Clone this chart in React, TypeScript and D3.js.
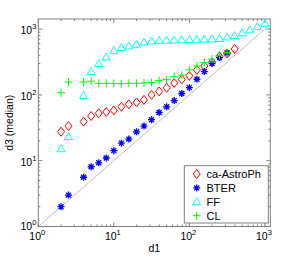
import React from 'react'
import * as d3 from 'd3'

// degree bins (d1) shared by all series
const d1Bins = [2, 2.51, 3.98, 5.01, 6.31, 7.94, 10, 12.6, 15.8, 20, 25.1, 31.6, 39.8, 50.1, 63.1, 79.4, 100, 126, 158, 200, 251, 316, 398, 501, 631, 794, 1000]

const astroPh = [27.6, 33.6, 39.3, 47.7, 52.5, 55, 58, 66, 72, 77, 84, 100, 113, 128, 152, 172, 195, 240, 275, 315, 385, 425, 500]
const bter = [2, 3, 5.6, 8.1, 9.3, 11, 14.2, 18.5, 21.3, 27.5, 33.6, 42, 54, 66, 82, 105, 129, 173, 226, 299, 370, 435]
const ff = [15.2, 23.2, 98.6, 226, 299, 378, 477, 525, 555, 590, 635, 660, 675, 680, 685, 690, 695, 700, 705, 710, 720, 760, 800, 880, 970, 1090, 1230]
const cl = [108, 157, 157, 162, 150, 150, 150, 148, 150, 150, 152, 155, 165, 172, 190, 200, 240, 275, 310, 350, 400, 440]

const seriesNames = ['ca-AstroPh', 'BTER', 'FF', 'CL']
const majorTicks = [1, 10, 100, 1000]

const W = 299
const H = 257
const left = 38.3
const right = 270.3
const top = 19
const bottom = 226.5

const x = d3.scaleLog().domain([1, 1180]).range([left, right])
const y = d3.scaleLog().domain([1, 1425]).range([bottom, top])

const Marker = ({ kind, cx, cy }: { kind: string; cx: number; cy: number }) => {
	if (kind === 'ca-AstroPh') {
		return <path d={`M${cx},${cy - 4.5}L${cx + 3.5},${cy}L${cx},${cy + 4.5}L${cx - 3.5},${cy}Z`} fill='none' stroke='#ff0000' strokeWidth={1} />
	}
	if (kind === 'BTER') {
		const r = 3.5
		const d = r * 0.707
		return (
			<path
				d={`M${cx - r},${cy}H${cx + r}M${cx},${cy - r}V${cy + r}M${cx - d},${cy - d}L${cx + d},${cy + d}M${cx - d},${cy + d}L${cx + d},${cy - d}`}
				stroke='#0000ff'
				strokeWidth={1.3}
			/>
		)
	}
	if (kind === 'FF') {
		return <path d={`M${cx},${cy - 4}L${cx + 4},${cy + 3}L${cx - 4},${cy + 3}Z`} fill='none' stroke='#00ffff' strokeWidth={1} />
	}
	return <path d={`M${cx - 4},${cy}H${cx + 4}M${cx},${cy - 4}V${cy + 4}`} stroke='#00ff00' strokeWidth={1} />
}

const minorOf = (max: number) => {
	const out: number[] = []
	for (const m of majorTicks) {
		for (let i = 2; i < 10; i++) {
			if (m * i <= max) out.push(m * i)
		}
	}
	return out
}

const App = () => {
	const series = [
		{ name: 'ca-AstroPh', values: astroPh },
		{ name: 'BTER', values: bter },
		{ name: 'FF', values: ff },
		{ name: 'CL', values: cl },
	]
	const axisColor = '#808080'
	const diag = d3.line<number>().x(d => x(d)).y(d => y(d))([1, 1100])

	return (
		<svg width={W} height={H} style={{ position: 'absolute', left: 0, top: 0, background: '#fff' }} fontFamily='Liberation Sans, Arial, sans-serif'>
			<rect x={left} y={top} width={right - left} height={bottom - top} fill='#fff' stroke='none' />
			<path d={diag || ''} stroke='#c0c0c0' strokeWidth={1} fill='none' />

			{/* ticks */}
			{majorTicks.map(t => (
				<g key={'mx' + t} stroke={axisColor} strokeWidth={1}>
					<line x1={x(t)} x2={x(t)} y1={bottom} y2={bottom - 4} />
					<line x1={x(t)} x2={x(t)} y1={top} y2={top + 4} />
				</g>
			))}
			{minorOf(1180).map(t => (
				<g key={'nx' + t} stroke={axisColor} strokeWidth={1}>
					<line x1={x(t)} x2={x(t)} y1={bottom} y2={bottom - 2} />
					<line x1={x(t)} x2={x(t)} y1={top} y2={top + 2} />
				</g>
			))}
			{majorTicks.map(t => (
				<g key={'my' + t} stroke={axisColor} strokeWidth={1}>
					<line x1={left} x2={left + 4} y1={y(t)} y2={y(t)} />
					<line x1={right} x2={right - 4} y1={y(t)} y2={y(t)} />
				</g>
			))}
			{minorOf(1425).map(t => (
				<g key={'ny' + t} stroke={axisColor} strokeWidth={1}>
					<line x1={left} x2={left + 2} y1={y(t)} y2={y(t)} />
					<line x1={right} x2={right - 2} y1={y(t)} y2={y(t)} />
				</g>
			))}
			<rect x={left} y={top} width={right - left} height={bottom - top} fill='none' stroke={axisColor} strokeWidth={1} />

			{/* tick labels */}
			{majorTicks.map((t, i) => (
				<text key={'lx' + t} x={x(t) - 1} y={bottom + 13} fontSize={10.5} textAnchor='middle' fill='#000'>
					10
					<tspan dy={-5} fontSize={7.5}>{i}</tspan>
				</text>
			))}
			{majorTicks.map((t, i) => (
				<text key={'ly' + t} x={left - 2} y={y(t) + (i === 0 ? 3 : 5)} fontSize={10.5} textAnchor='end' fill='#000'>
					10
					<tspan dy={-5} fontSize={7.5}>{i}</tspan>
				</text>
			))}

			<text x={(left + right) / 2} y={252} fontSize={10.5} textAnchor='middle' fill='#000'>d1</text>
			<text transform={`translate(13, ${(top + bottom) / 2}) rotate(-90)`} fontSize={10.5} textAnchor='middle' fill='#000'>d3 (median)</text>

			{/* data */}
			{series.map(s => (
				<g key={s.name}>
					{s.values.map((v, i) => (
						<Marker key={i} kind={s.name} cx={x(d1Bins[i])} cy={y(v)} />
					))}
				</g>
			))}

			{/* legend */}
			<rect x={184.3} y={165.7} width={84} height={57.3} fill='#fff' stroke={axisColor} strokeWidth={1} />
			{seriesNames.map((n, i) => (
				<g key={'lg' + n}>
					<Marker kind={n} cx={196.7} cy={174 + i * 13.9} />
					<text x={206.5} y={174 + i * 13.9 + 4} fontSize={11} fill='#000'>{n}</text>
				</g>
			))}
		</svg>
	)
}

export default App
